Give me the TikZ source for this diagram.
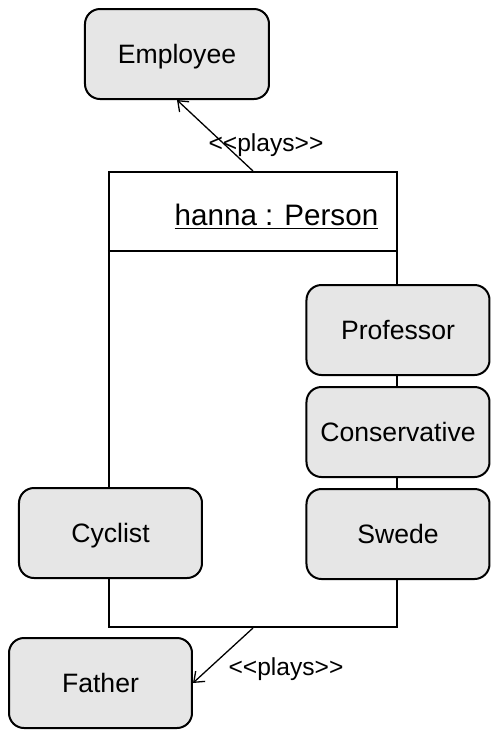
\documentclass[tikz,border=0pt]{standalone}
\usepackage{fontspec}
\setmainfont{Liberation Sans}
\usetikzlibrary{arrows.meta}
\definecolor{rolegray}{RGB}{230,230,230}
\begin{document}
\begin{tikzpicture}[x=0.5pt,y=-0.5pt,
  role/.style={draw, line width=1pt, rounded corners=7.5pt, fill=rolegray,
    minimum width=91.5pt, minimum height=45pt, inner sep=0pt,
    text height=9.5pt, text depth=0pt,
    font=\fontsize{13.3}{16}\selectfont},
  objbox/.style={draw, line width=1pt, inner sep=0pt,
    minimum width=144pt, minimum height=227.5pt},
  plays/.style={draw, line width=0.65pt, -{Straight Barb[length=4.5pt,width=7pt]}},
  lbl/.style={font=\fontsize{12.3}{15}\selectfont, inner sep=0pt}]
\useasboundingbox (0,0) rectangle (499,736);
% object box
\node[objbox] (person) at (253,399.5) {};
\draw[line width=1pt] ([yshift=-40pt]person.north west) -- ([yshift=-40pt]person.north east);
\node[font=\fontsize{14.8}{18}\selectfont, anchor=base, inner sep=0pt] (title) at (276.5,225) {\underline{hanna : Person}};
% roles
\node[role, minimum width=92pt] (emp) at (177,54) {Employee};
\node[role] (prof) at (398,330) {Professor};
\node[role] (cons) at (398,432) {Conservative};
\node[role] (swede) at (398,534) {Swede};
\node[role] (cyc) at (110.5,533) {Cyclist};
\node[role] (father) at (100.5,683) {Father};
% connectors
\draw[plays] (person.north) -- (emp.south);
\draw[plays] (person.south) -- (father.east);
\node[lbl] (l1) at (266,145) {<\kern0pt<plays>\kern0pt>};
\node[lbl] (l2) at (286,669) {<\kern0pt<plays>\kern0pt>};
\end{tikzpicture}
\end{document}
